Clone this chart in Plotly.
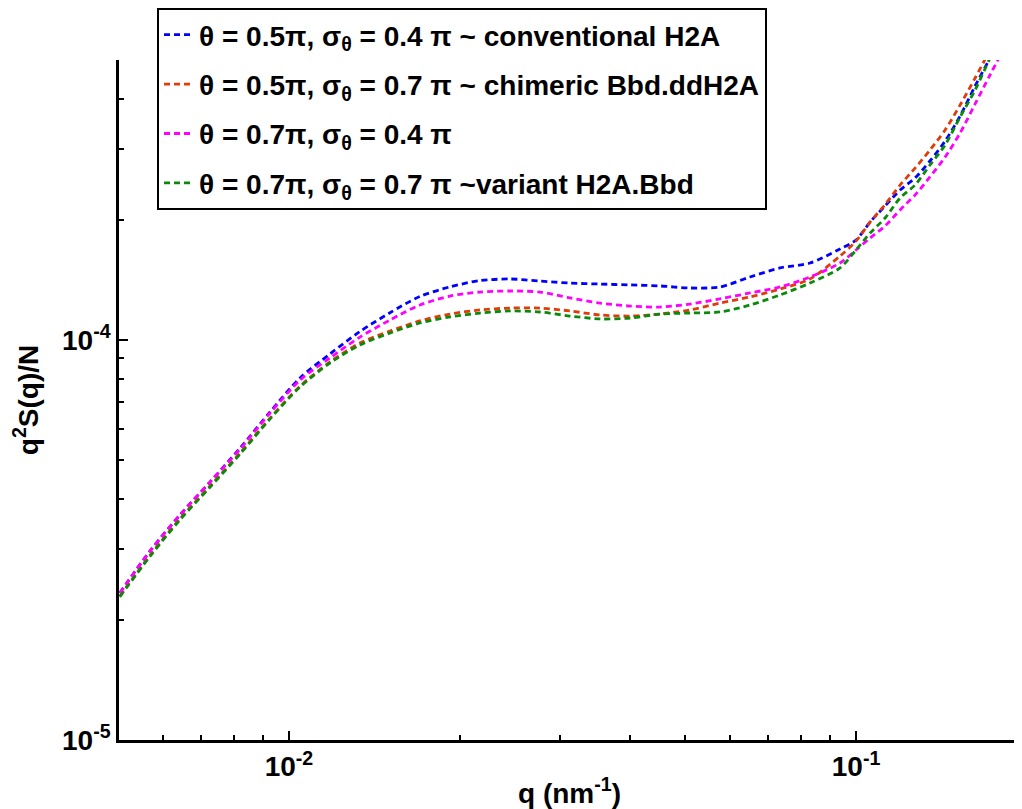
import plotly.graph_objects as go

# q grid (nm^-1)
q = [0.00503, 0.00569, 0.00642, 0.00726, 0.00820, 0.00926, 0.01046, 0.01181, 0.01334,
     0.01507, 0.01702, 0.01923, 0.02172, 0.02453, 0.02771, 0.03130, 0.03536, 0.03994,
     0.04511, 0.05095, 0.05755, 0.06502, 0.07345, 0.08296, 0.09371, 0.1000, 0.1059,
     0.1125, 0.1196, 0.1271, 0.1350, 0.1436, 0.1526, 0.1622, 0.1723, 0.1795]

blue = [2.33e-5, 2.97e-5, 3.65e-5, 4.42e-5, 5.37e-5, 6.61e-5, 8.04e-5, 9.23e-5, 1.050e-4,
        1.170e-4, 1.285e-4, 1.358e-4, 1.408e-4, 1.421e-4, 1.404e-4, 1.388e-4, 1.380e-4, 1.373e-4,
        1.365e-4, 1.349e-4, 1.357e-4, 1.437e-4, 1.514e-4, 1.558e-4, 1.689e-4, 1.778e-4, 1.972e-4,
        2.163e-4, 2.371e-4, 2.541e-4, 2.802e-4, 3.144e-4, 3.631e-4, 4.315e-4, 5.07e-4, 5.69e-4]

red = [2.29e-5, 2.90e-5, 3.57e-5, 4.32e-5, 5.22e-5, 6.38e-5, 7.67e-5, 8.81e-5, 9.83e-5,
       1.053e-4, 1.116e-4, 1.161e-4, 1.189e-4, 1.202e-4, 1.202e-4, 1.182e-4, 1.155e-4, 1.148e-4,
       1.161e-4, 1.189e-4, 1.237e-4, 1.281e-4, 1.341e-4, 1.421e-4, 1.622e-4, 1.768e-4, 1.972e-4,
       2.180e-4, 2.440e-4, 2.690e-4, 2.985e-4, 3.350e-4, 3.868e-4, 4.519e-4, 5.31e-4, 5.96e-4]

magenta = [2.33e-5, 2.97e-5, 3.65e-5, 4.42e-5, 5.34e-5, 6.57e-5, 7.94e-5, 9.02e-5, 1.017e-4,
           1.122e-4, 1.223e-4, 1.288e-4, 1.318e-4, 1.326e-4, 1.318e-4, 1.274e-4, 1.237e-4, 1.216e-4,
           1.209e-4, 1.230e-4, 1.267e-4, 1.311e-4, 1.357e-4, 1.437e-4, 1.558e-4, 1.679e-4, 1.799e-4,
           1.928e-4, 2.114e-4, 2.304e-4, 2.556e-4, 2.868e-4, 3.292e-4, 3.891e-4, 4.597e-4, 5.13e-4]

green = [2.28e-5, 2.88e-5, 3.55e-5, 4.29e-5, 5.19e-5, 6.35e-5, 7.63e-5, 8.76e-5, 9.72e-5,
         1.041e-4, 1.103e-4, 1.142e-4, 1.168e-4, 1.182e-4, 1.175e-4, 1.148e-4, 1.129e-4, 1.135e-4,
         1.161e-4, 1.168e-4, 1.175e-4, 1.223e-4, 1.296e-4, 1.388e-4, 1.514e-4, 1.679e-4, 1.851e-4,
         2.018e-4, 2.265e-4, 2.441e-4, 2.738e-4, 3.073e-4, 3.610e-4, 4.217e-4, 5.07e-4, 5.75e-4]

names = [
    "θ = 0.5π, σ<sub>θ</sub> = 0.4 π ~ conventional H2A",
    "θ = 0.5π, σ<sub>θ</sub> = 0.7 π ~ chimeric Bbd.ddH2A",
    "θ = 0.7π, σ<sub>θ</sub> = 0.4 π",
    "θ = 0.7π, σ<sub>θ</sub> = 0.7 π ~variant H2A.Bbd",
]
series = [blue, red, magenta, green]
colors = ["#0000ff", "#e03c0a", "#ff00ff", "#0a8a0a"]

x_tickvals = [0.01, 0.1]
x_ticktext = ["10<sup>-2</sup>", "10<sup>-1</sup>"]
y_tickvals = [1e-5, 1e-4]
y_ticktext = ["10<sup>-5</sup>", "10<sup>-4</sup>"]

FONT = "Liberation Sans, Arial, sans-serif"

fig = go.Figure()
for i, (name, ys, c) in enumerate(zip(names, series, colors)):
    fig.add_trace(go.Scatter(x=q, y=ys, mode="lines", name=name, legendgroup=f"g{i}",
                             line=dict(color=c, width=2.8, dash="6px,4px", shape="spline", smoothing=0.8)))

axis_common = dict(
    showline=True, linecolor="black", linewidth=2.5, mirror=False,
    ticks="inside", ticklen=9, tickwidth=2, tickcolor="black",
    showgrid=False, zeroline=False, automargin=False,
    tickfont=dict(family=FONT, size=28, color="black", weight="bold"),
)

fig.update_xaxes(type="log", range=[-2.2998, -0.7108],
                 tickvals=x_tickvals, ticktext=x_ticktext,
                 minor=dict(ticks="inside", ticklen=5, tickwidth=2, tickcolor="black", dtick="D1", showgrid=False),
                 title=dict(text="q (nm<sup>-1</sup>)", font=dict(family=FONT, size=28, color="black", weight="bold"), standoff=3),
                 **axis_common)
fig.update_yaxes(type="log", range=[-5, -3.3],
                 tickvals=y_tickvals, ticktext=y_ticktext,
                 minor=dict(ticks="inside", ticklen=5, tickwidth=2, tickcolor="black", dtick="D1", showgrid=False),
                 title=dict(text="q<sup>2</sup>S(q)/N", font=dict(family=FONT, size=28, color="black", weight="bold"), standoff=34),
                 **axis_common)

fig.update_layout(
    width=1014, height=801,
    margin=dict(l=111, r=2, t=52, b=69, autoexpand=False),
    plot_bgcolor="white", paper_bgcolor="white",
    legend=dict(x=0.0422, y=1.0765, xanchor="left", yanchor="top",
                bgcolor="white", bordercolor="black", borderwidth=2,
                font=dict(family=FONT, size=28, color="black", weight="bold"),
                itemwidth=30, tracegroupgap=10),
    showlegend=True,
)

fig.write_html("out.html")
